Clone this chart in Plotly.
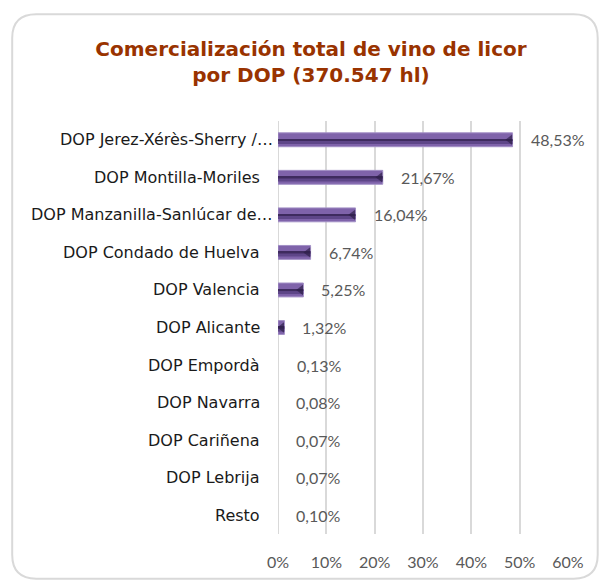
import plotly.graph_objects as go

categories = [
    "DOP Jerez-Xérès-Sherry /…",
    "DOP Montilla-Moriles",
    "DOP Manzanilla-Sanlúcar de…",
    "DOP Condado de Huelva",
    "DOP Valencia",
    "DOP Alicante",
    "DOP Empordà",
    "DOP Navarra",
    "DOP Cariñena",
    "DOP Lebrija",
    "Resto",
]
values = [48.53, 21.67, 16.04, 6.74, 5.25, 1.32, 0.13, 0.08, 0.07, 0.07, 0.10]
value_labels = ["48,53%", "21,67%", "16,04%", "6,74%", "5,25%", "1,32%",
                "0,13%", "0,08%", "0,07%", "0,07%", "0,10%"]
x_ticks = [0, 10, 20, 30, 40, 50, 60]
x_ticktext = ["0%", "10%", "20%", "30%", "40%", "50%", "60%"]
title_text = "Comercialización total de vino de licor<br>por DOP (370.547 hl)"

W, H = 600, 583
L, R, T, B = 278.3, 31.7, 121, 46
PW, PH = W - L - R, H - T - B


def px(x):
    return (x - L) / PW


def py(y):
    return (H - B - y) / PH


visible = [v > 0.5 for v in values]


def colors(c):
    # sub-pixel bars are not visible in the original
    return [c if s else "rgba(0,0,0,0)" for s in visible]


fig = go.Figure()

# base bar
fig.add_trace(go.Bar(
    y=categories, x=values, orientation="h",
    width=0.37, offset=-0.185,
    marker=dict(color=colors("#7f63aa"),
                line=dict(color="#a390c6", width=[1 if s else 0 for s in visible])),
    hoverinfo="skip", showlegend=False,
))
# lower darker band
fig.add_trace(go.Bar(
    y=categories, x=values, orientation="h",
    width=0.11, offset=0.0,
    marker=dict(color=colors("#5e4688"), line=dict(width=0)),
    hoverinfo="skip", showlegend=False,
))
# central dark stripe
fig.add_trace(go.Bar(
    y=categories, x=values, orientation="h",
    width=0.05, offset=-0.02,
    marker=dict(color=colors("#3e2b5e"), line=dict(width=0)),
    hoverinfo="skip", showlegend=False,
))
# dark bevel at bar end
fig.add_trace(go.Scatter(
    y=categories, x=[max(v - 0.55, 0) for v in values], mode="markers",
    marker=dict(symbol="triangle-left", size=[9 if v > 1 else 0 for v in values],
                color="#2e1f48", line=dict(width=0)),
    hoverinfo="skip", showlegend=False,
))

annotations = []
for c, v, t in zip(categories, values, value_labels):
    annotations.append(dict(
        x=v, y=c, xref="x", yref="y", text=t, showarrow=False,
        xanchor="left", yanchor="middle", xshift=16,
        font=dict(family="Lato", size=16, color="#595959"),
    ))
# category labels (truncated labels run closer to the axis, as in the original)
for c in categories:
    annotations.append(dict(
        x=0, y=c, xref="paper", yref="y", text=c, showarrow=False,
        xanchor="right", yanchor="middle",
        xshift=-3 if c.endswith("…") else -16,
        font=dict(family="DejaVu Sans", size=16, color="#1a1a1a"),
    ))

# rounded card border
x0, x1, y0, y1, r = px(12.5), px(598), py(13.5), py(582), 24
rx, ry = r / PW, r / PH
path = (f"M {x0+rx},{y0} L {x1-rx},{y0} Q {x1},{y0} {x1},{y0-ry} "
        f"L {x1},{y1+ry} Q {x1},{y1} {x1-rx},{y1} "
        f"L {x0+rx},{y1} Q {x0},{y1} {x0},{y1+ry} "
        f"L {x0},{y0-ry} Q {x0},{y0} {x0+rx},{y0} Z")

fig.update_layout(
    width=W, height=H,
    margin=dict(l=L, r=R, t=T, b=B, pad=0),
    paper_bgcolor="white", plot_bgcolor="white",
    barmode="overlay",
    title=dict(text=title_text, x=311 / W, xanchor="center", xref="container",
               y=1 - 56 / H, yanchor="top", yref="container",
               font=dict(family="DejaVu Sans", size=20, color="#993300", weight="bold")),
    xaxis=dict(range=[0, 60], tickvals=x_ticks, ticktext=x_ticktext,
               showgrid=True, gridcolor="#d9d9d9", gridwidth=2,
               zeroline=False, showline=False,
               ticks="outside", ticklen=14, tickcolor="rgba(0,0,0,0)",
               tickfont=dict(family="Lato", size=16, color="#595959"),
               fixedrange=True),
    yaxis=dict(range=[len(categories) - 0.5, -0.5], showgrid=False, zeroline=False,
               showline=False, ticks="", showticklabels=False,
               fixedrange=True),
    annotations=annotations,
    shapes=[
        dict(type="path", path=path, xref="paper", yref="paper",
             line=dict(color="#d9d9d9", width=2), layer="below"),
        # gridline at 0 % (plotly drops the edge gridline)
        dict(type="line", x0=x_ticks[0], x1=x_ticks[0], y0=0, y1=1,
             xref="x", yref="paper", line=dict(color="#d9d9d9", width=2),
             layer="below"),
    ],
    font=dict(family="Lato"),
)

fig.write_html("out.html", config={"displayModeBar": False},
               post_script="document.body.style.margin='0';document.body.style.padding='0';")
